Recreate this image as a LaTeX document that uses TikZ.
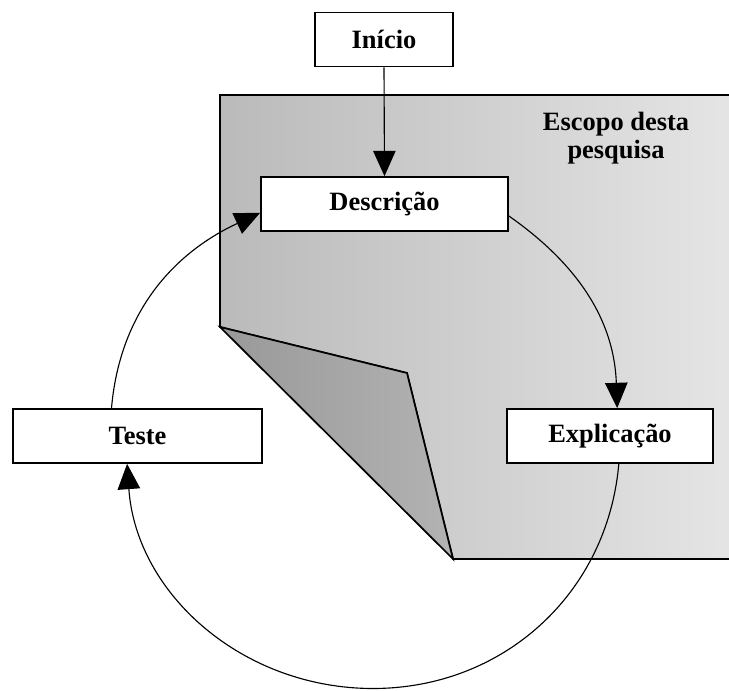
\documentclass[tikz,border=0pt]{standalone}
\usepackage{fontspec}
\setmainfont{Liberation Serif}
\usetikzlibrary{arrows.meta}

\begin{document}
\begin{tikzpicture}[
        x=0.025cm, y=0.025cm,
        every node/.style={font=\bfseries\fontsize{18.8}{20}\selectfont},
        etapa/.style={rectangle, draw=black, line width=1.2pt, fill=white, minimum height=1.35cm, inner sep=0pt},
        seta/.style={-{Triangle[length=18pt,width=16pt]}, line width=0.8pt},
    ]
    \useasboundingbox (0,0) rectangle (729,690);

    % folha com canto dobrado
    \draw[line width=1.2pt, left color=black!27, right color=black!10]
        (220,595) -- (740,595) -- (740,131) -- (453,131) -- (407,317) -- (220,363) -- cycle;
    \draw[line width=1.2pt, left color=black!40, right color=black!30]
        (220,363) -- (407,317) -- (453,131) -- cycle;

    \node[etapa, minimum width=3.45cm]  (Inicio)  at (384,650.5) {Início};
    \node[etapa, minimum width=6.175cm] (Desc)    at (384.5,486) {Descrição};
    \node[etapa, minimum width=5.15cm]  (Expl)    at (610,254)   {Explicação};
    \node[etapa, minimum width=6.225cm] (Teste)   at (137.5,254) {Teste};
    \node[align=center]                 (Escopo)  at (616,552)   {Escopo desta\\pesquisa};

    \coordinate (Fundo) at (373,1.5);

    \draw[seta] (Inicio.south) -- (Desc.north);
    \draw[seta] ([yshift=-0.3cm]Desc.east) to[out=-35, in=92] ([xshift=0.18cm]Expl.north);
    \draw[seta] ([xshift=0.22cm]Expl.south) to[out=-95, in=0] (Fundo)
        to[out=180, in=-86] ([xshift=-0.26cm]Teste.south);
    \draw[seta] ([xshift=-0.65cm]Teste.north) to[out=85, in=-155] ([yshift=-0.22cm]Desc.west);
\end{tikzpicture}
\end{document}
